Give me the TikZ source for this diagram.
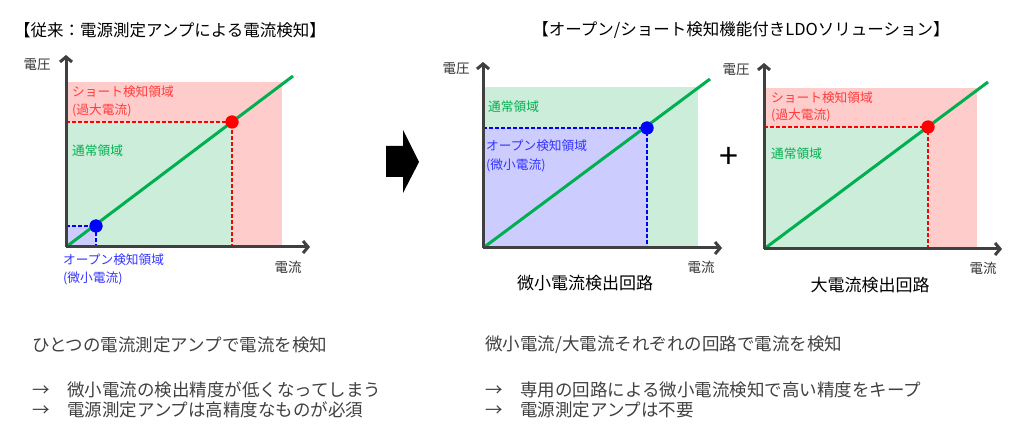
\documentclass[tikz,border=0pt]{standalone}
\usepackage{fontspec}
\setmainfont{Noto Sans CJK JP}
\usepackage{tikz}
\usetikzlibrary{arrows.meta}
\usetikzlibrary{positioning}
\definecolor{pinkreg}{HTML}{FFCCCC}
\definecolor{greenreg}{HTML}{CCEDD9}
\definecolor{bluereg}{HTML}{CCCCFF}
\definecolor{lineg}{HTML}{00B050}
\definecolor{axisg}{HTML}{404040}
\definecolor{redtxt}{HTML}{FF3B3B}
\definecolor{bluetxt}{HTML}{3333FF}

\begin{document}
\begin{tikzpicture}[x=1pt,y=-1pt,
	axs/.style={draw=axisg,line width=3pt,-{Straight Barb[length=5pt,width=12pt]}},
	dsh/.style={line width=1.5pt,dash pattern=on 4pt off 2pt},
	curve/.style={draw=lineg,line width=3pt},
	dot/.style={circle,inner sep=0pt,minimum size=13pt},
	reg/.style={font=\fontsize{12.7}{14}\selectfont,anchor=west,inner sep=0pt},
	axl/.style={font=\fontsize{13.5}{15}\selectfont,text=black!80,inner sep=0pt},
	ttl/.style={font=\fontsize{16.5}{19}\selectfont,inner sep=0pt},
	sub/.style={font=\fontsize{17}{19}\selectfont,inner sep=0pt},
	txt/.style={font=\fontsize{17.5}{19}\selectfont,text=black!75,anchor=west,inner sep=0pt}]
	\useasboundingbox (0,0) rectangle (1030,446);
	
	% titles
	\node [ttl] (t1) at (170,30) {【従来：電源測定アンプによる電流検知】};
	\node [ttl] (t2) at (741,30) {【オープン/ショート検知機能付きLDOソリューション】};
	
	% left chart
	\fill [pinkreg] (66,82) rectangle (282,247);
	\fill [greenreg] (66,122) rectangle (233,247);
	\fill [bluereg] (66,226) rectangle (96,247);
	\coordinate (o1) at (66,247);
	\coordinate (ya1) at (66,55);
	\coordinate (xa1) at (310,247);
	\coordinate (e1) at (293,76);
	\node [dot, fill=red] (rd1) at (232,122) {};
	\node [dot, fill=blue] (bd1) at (96,226) {};
	\draw [dsh, red] (o1 |- rd1.center)--(rd1.center)--(rd1.center |- o1);
	\draw [dsh, blue] (o1 |- bd1.center)--(bd1.center)--(bd1.center |- o1);
	\draw [curve] (o1)--(e1);
	\draw [axs] (o1)--(ya1);
	\draw [axs] (o1)--(xa1);
	\node [dot, fill=red] at (rd1) {};
	\node [dot, fill=blue] at (bd1) {};
	\node [axl] (v1) at (37,65) {電圧};
	\node [axl] (i1) at (288,267) {電流};
	\node [reg, text=redtxt] (s1) at (72,92) {ショート検知領域};
	\node [reg, text=redtxt] (s1b) at (72,110) {(過大電流)};
	\node [reg, text=lineg] (n1) at (72,151) {通常領域};
	\node [reg, text=bluetxt] (op1) at (63,260) {オープン検知領域};
	\node [reg, text=bluetxt] (op1b) at (63,278) {(微小電流)};
	
	% big arrow
	\fill (386,146)--(403,146)--(403,130)--(419,162)--(403,193)--(403,177)--(386,177)--cycle;
	
	% middle chart
	\fill [greenreg] (483,87) rectangle (698,248);
	\fill [bluereg] (483,128) rectangle (648,248);
	\coordinate (o2) at (483,248);
	\coordinate (ya2) at (483,62);
	\coordinate (xa2) at (722,248);
	\coordinate (e2) at (710,79);
	\node [dot, fill=blue] (bd2) at (647,128) {};
	\draw [dsh, blue] (o2 |- bd2.center)--(bd2.center)--(bd2.center |- o2);
	\draw [curve] (o2)--(e2);
	\draw [axs] (o2)--(ya2);
	\draw [axs] (o2)--(xa2);
	\node [dot, fill=blue] at (bd2) {};
	\node [axl] (v2) at (456,69) {電圧};
	\node [axl] (i2) at (701,267) {電流};
	\node [reg, text=lineg] (n2) at (488,107) {通常領域};
	\node [reg, text=bluetxt] (op2) at (486,146) {オープン検知領域};
	\node [reg, text=bluetxt] (op2b) at (486,165) {(微小電流)};
	\node [sub] (c2) at (585,283) {微小電流検出回路};
	
	\node [font=\fontsize{34}{34}\selectfont, inner sep=0pt] (plus) at (729,158) {+};
	
	% right chart
	\fill [pinkreg] (764,88) rectangle (977,249);
	\fill [greenreg] (764,127) rectangle (930,249);
	\coordinate (o3) at (764,249);
	\coordinate (ya3) at (764,63);
	\coordinate (xa3) at (1002,249);
	\coordinate (e3) at (988,82);
	\node [dot, fill=red] (rd3) at (928,127) {};
	\draw [dsh, red] (o3 |- rd3.center)--(rd3.center)--(rd3.center |- o3);
	\draw [curve] (o3)--(e3);
	\draw [axs] (o3)--(ya3);
	\draw [axs] (o3)--(xa3);
	\node [dot, fill=red] at (rd3) {};
	\node [axl] (v3) at (736,70) {電圧};
	\node [axl] (i3) at (983,268) {電流};
	\node [reg, text=redtxt] (s3) at (771,98) {ショート検知領域};
	\node [reg, text=redtxt] (s3b) at (771,115) {(過大電流)};
	\node [reg, text=lineg] (n3) at (771,154) {通常領域};
	\node [sub] (c3) at (870,285) {大電流検出回路};
	
	% bottom notes
	\node [txt] (l1) at (32,345) {ひとつの電流測定アンプで電流を検知};
	\node [txt] (l2) at (32,390) {→　微小電流の検出精度が低くなってしまう};
	\node [txt] (l3) at (32,410) {→　電源測定アンプは高精度なものが必須};
	\node [txt] (r1) at (485,345) {微小電流/大電流それぞれの回路で電流を検知};
	\node [txt] (r2) at (485,390) {→　専用の回路による微小電流検知で高い精度をキープ};
	\node [txt] (r3) at (485,410) {→　電源測定アンプは不要};
\end{tikzpicture}
\end{document}
